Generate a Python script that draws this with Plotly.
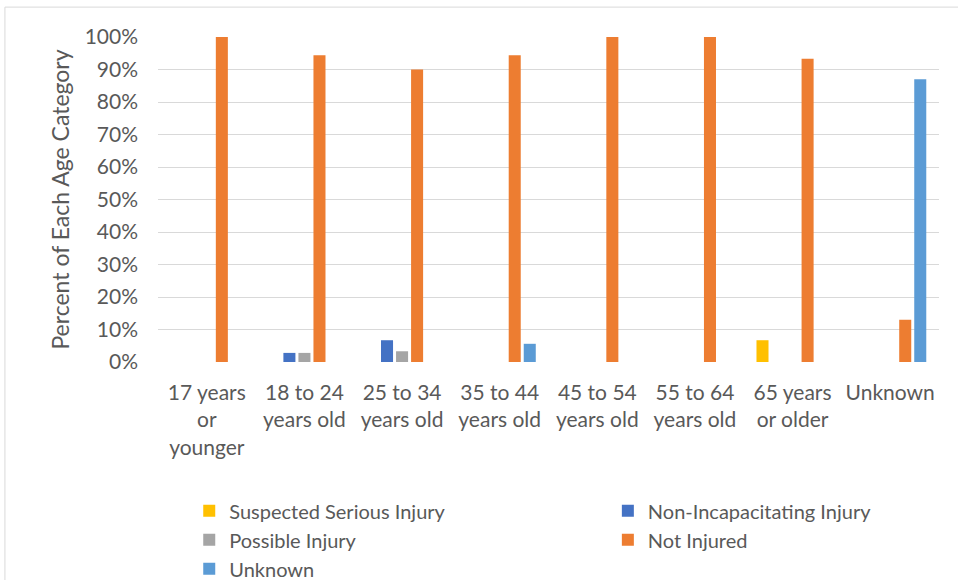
import plotly.graph_objects as go

# Age categories (x axis) and per-series percentages
categories = [
    "17 years<br>or<br>younger",
    "18 to 24<br>years old",
    "25 to 34<br>years old",
    "35 to 44<br>years old",
    "45 to 54<br>years old",
    "55 to 64<br>years old",
    "65 years<br>or older",
    "Unknown",
]

suspected_serious = [0, 0, 0, 0, 0, 0, 6.7, 0]
non_incapacitating = [0, 2.8, 6.7, 0, 0, 0, 0, 0]
possible_injury = [0, 2.8, 3.3, 0, 0, 0, 0, 0]
not_injured = [100, 94.4, 90.0, 94.4, 100, 100, 93.3, 13.0]
unknown = [0, 0, 0, 5.6, 0, 0, 0, 87.0]

y_ticks = list(range(0, 101, 10))
y_tick_labels = [f"{v}%" for v in y_ticks]

# name, values, colour, which legend column it sits in
series = [
    ("Suspected Serious Injury", suspected_serious, "#FFC000", "legend"),
    ("Non-Incapacitating Injury", non_incapacitating, "#4472C4", "legend2"),
    ("Possible Injury", possible_injury, "#A5A5A5", "legend"),
    ("Not Injured", not_injured, "#ED7D31", "legend2"),
    ("Unknown", unknown, "#5B9BD5", "legend"),
]

FONT = "Lato, 'Open Sans', sans-serif"
TEXT = "#595959"

fig = go.Figure()
for name, vals, color, leg in series:
    fig.add_trace(go.Bar(
        x=categories, y=vals, name=name, legend=leg,
        marker=dict(color=color, line=dict(width=0)),
    ))

legend_style = dict(
    orientation="v", xanchor="left", yanchor="top", y=-0.398,
    font=dict(family=FONT, size=20, color=TEXT),
    traceorder="normal", itemclick=False, bgcolor="rgba(0,0,0,0)",
)

fig.update_layout(
    width=958, height=580,
    margin=dict(l=158, r=19, t=37, b=218, autoexpand=False),
    paper_bgcolor="white", plot_bgcolor="white",
    barmode="group", bargap=0.23, bargroupgap=0.2,
    font=dict(family=FONT, color=TEXT, size=21),
    showlegend=True,
    legend=dict(x=0.04, **legend_style),
    legend2=dict(x=0.576, **legend_style),
    shapes=[dict(
        type="rect", xref="paper", yref="paper",
        x0=-0.196, x1=1.05, y0=-0.7, y1=1.092,
        line=dict(color="#D9D9D9", width=1), fillcolor="rgba(0,0,0,0)",
        layer="below",
    )],
)

fig.update_xaxes(
    type="category", showgrid=False, showline=False, zeroline=False,
    ticks="", tickfont=dict(family=FONT, size=21, color=TEXT),
    tickangle=0, ticklabelstandoff=16,
)
fig.update_yaxes(
    range=[0, 100], tickvals=y_ticks, ticktext=y_tick_labels,
    showgrid=True, gridcolor="#D9D9D9", gridwidth=1.3,
    zeroline=False, showline=False, ticks="",
    tickfont=dict(family=FONT, size=21, color=TEXT),
    ticklabelstandoff=19,
    title=dict(text="Percent of Each Age Category",
               font=dict(family=FONT, size=23, color=TEXT), standoff=8),
)

fig.write_html("out.html")
